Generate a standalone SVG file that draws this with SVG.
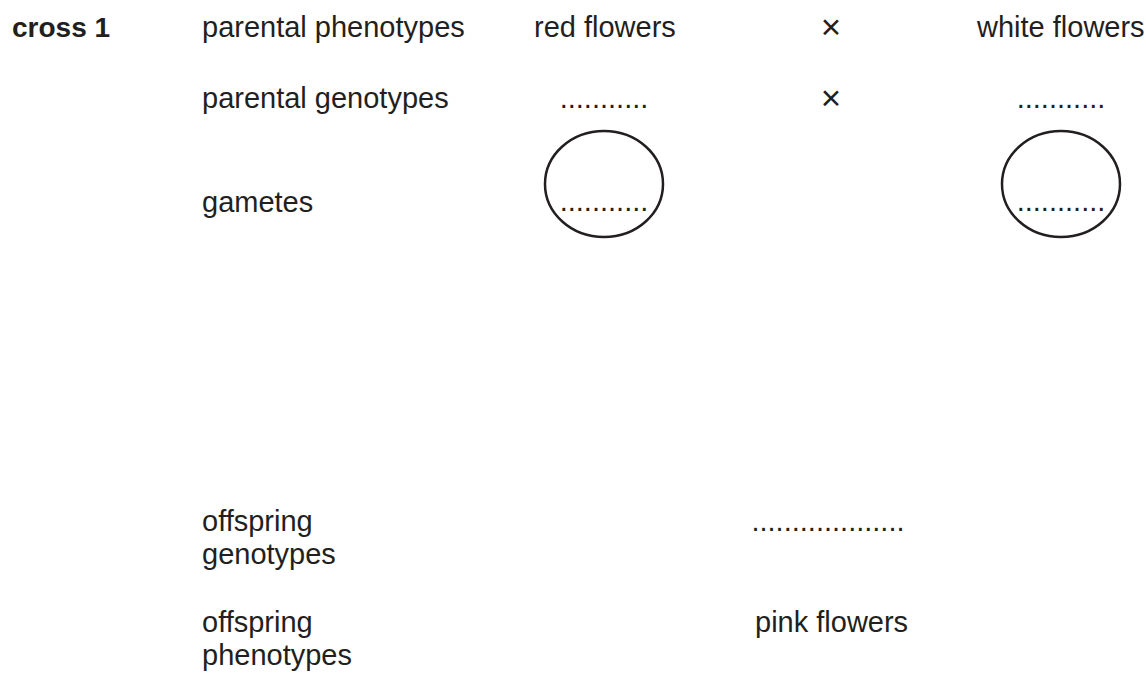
<svg xmlns="http://www.w3.org/2000/svg" width="1146" height="674" viewBox="0 0 1146 674">
<style>
text{font-family:"Liberation Sans",Arial,sans-serif;font-size:29px;fill:#231f20}
.b{font-weight:bold;font-size:28px}
.m{text-anchor:middle}
.x{font-size:35px}
.g{fill:none;stroke:#231f20;stroke-width:2.5}
</style>
<rect width="1146" height="674" fill="#fff"/>
<g id="title"><text class="b" x="12" y="37">cross 1</text></g>
<g id="labels">
<text x="202" y="37">parental phenotypes</text>
<text x="202" y="108">parental genotypes</text>
<text x="202" y="212">gametes</text>
<text x="202" y="531">offspring</text>
<text x="202" y="564">genotypes</text>
<text x="202" y="632">offspring</text>
<text x="202" y="665">phenotypes</text>
</g>
<g id="parent1">
<text x="534" y="37">red flowers</text>
<text class="m" x="604" y="108">...........</text>
</g>
<g id="cross-signs">
<text class="m x" x="831" y="39">×</text>
<text class="m x" x="831" y="110">×</text>
</g>
<g id="parent2">
<text x="977" y="37">white flowers</text>
<text class="m" x="1061" y="108">...........</text>
</g>
<g id="gamete1">
<ellipse class="g" cx="604" cy="184" rx="59" ry="53"/>
<text class="m" x="604" y="211">...........</text>
</g>
<g id="gamete2">
<ellipse class="g" cx="1061" cy="184" rx="59" ry="53"/>
<text class="m" x="1061" y="211">...........</text>
</g>
<g id="offspring">
<text class="m" x="828" y="531">...................</text>
<text x="755" y="632">pink flowers</text>
</g>
</svg>
